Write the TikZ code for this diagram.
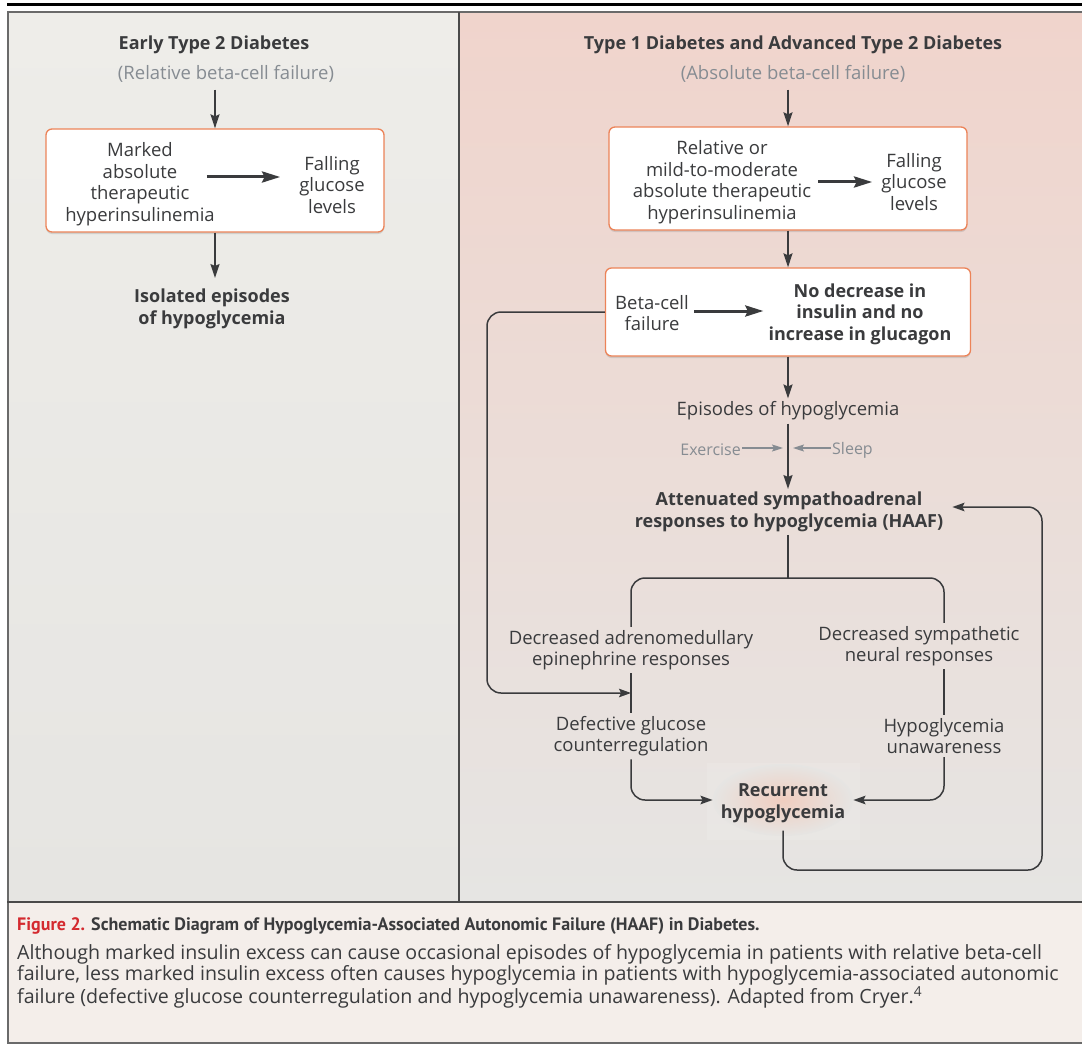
\documentclass[tikz,border=0pt]{standalone}
\usepackage{fontspec}
\setmainfont{Open Sans}
\newfontfamily\capfont{PT Sans}
\usetikzlibrary{positioning, arrows.meta, shadows}
\definecolor{ink}{HTML}{3A3B3D}
\definecolor{softgray}{HTML}{868C92}
\definecolor{boxline}{HTML}{EC8358}
\definecolor{lefttop}{HTML}{EEEDE9}
\definecolor{leftbot}{HTML}{E6E5E2}
\definecolor{pinktop}{HTML}{F0D4CC}
\definecolor{pinkmid}{HTML}{ECDFDA}
\definecolor{graybot}{HTML}{E6E5E3}
\definecolor{glowpink}{HTML}{F0CDBF}
\definecolor{capbg}{HTML}{F4EEEA}
\definecolor{capred}{HTML}{D42A2F}
\definecolor{framegray}{HTML}{6A6A6A}
\tikzset{
  x=1pt, y=-1pt,
  txt/.style={
      align=center,
      text=ink,
      font=\fontsize{18.5}{21.5}\selectfont,
      inner sep=3pt
    },
  btxt/.style={
      txt,
      font=\fontsize{18}{21.5}\selectfont\bfseries
    },
  subhdr/.style={
      txt,
      text=softgray
    },
  note/.style={
      txt,
      text=softgray,
      font=\fontsize{16}{18}\selectfont,
      inner sep=1pt
    },
  box/.style={
      rectangle,
      rounded corners=6pt,
      draw=boxline,
      line width=1.3pt,
      fill=white,
      drop shadow={shadow xshift=0pt, shadow yshift=-2pt, opacity=0.25}
    },
  arr/.style={
      -{Stealth[length=14pt, width=9pt, inset=2pt]},
      line width=1.8pt,
      ink
    },
  barr/.style={
      -{Stealth[length=18pt, width=11pt, inset=2.5pt]},
      line width=3pt,
      ink
    },
  link/.style={
      line width=1.5pt,
      ink,
      rounded corners=14pt
    },
  larr/.style={
      link,
      -{Stealth[length=12pt, width=8.5pt, inset=2pt]}
    },
  garr/.style={
      -{Stealth[length=11pt, width=7pt, inset=2pt]},
      line width=1.3pt,
      softgray
    },
  captext/.style={
      anchor=north west,
      align=left,
      inner sep=0pt,
      text=ink,
      font=\fontsize{19.6}{21.5}\selectfont
    }
}

\begin{document}
\begin{tikzpicture}
  \useasboundingbox (0,0) rectangle (1082,1046);
  % panels and frame
  \shade[top color=lefttop, bottom color=leftbot] (7,12) rectangle (459,902);
  \shade[top color=pinktop, middle color=pinkmid, bottom color=graybot] (459,12) rectangle (1090,902);
  \fill[capbg] (7,902) rectangle (1090,1043);
  \draw[framegray, line width=2pt] (7.5,12) rectangle (1095,1043);
  \draw[framegray!70!black, line width=2.5pt] (7,902) -- (1090,902);
  \draw[framegray!70!black, line width=2pt] (459,12) -- (459,902);
  \draw[black, line width=3pt] (7,5) -- (1090,5);

  % left panel: early type 2
  \node[btxt] (early) at (214,45) {Early Type 2 Diabetes};
  \node[subhdr] (relfail) at (226,74) {(Relative beta-cell failure)};
  \node[box, minimum width=338pt, minimum height=103pt] (lbox) at (215,180.5) {};
  \node[txt] (marked) at (140,184) {Marked\\absolute\\therapeutic\\hyperinsulinemia};
  \node[txt] (lfall) at (332,185) {Falling\\glucose\\levels};
  \node[btxt] (isolated) at (212,309) {Isolated episodes\\of hypoglycemia};
  \draw[arr, shorten <=4pt] (lbox.north |- relfail.south) -- (lbox.north);
  \draw[barr, shorten <=-11pt, shorten >=16pt] ([yshift=7pt]marked.east) -- ([yshift=7pt]marked.east -| lfall.west);
  \draw[arr, shorten >=8pt] (lbox.south) -- (lbox.south |- isolated.north);

  % right panel: type 1 and advanced type 2
  \node[btxt] (advanced) at (793,45) {Type 1 Diabetes and Advanced Type 2 Diabetes};
  \node[subhdr] (absfail) at (793,74) {(Absolute beta-cell failure)};
  \node[box, minimum width=358pt, minimum height=103pt] (rbox1) at (788,178.5) {};
  \node[txt] (mild) at (722,182) {Relative or\\mild-to-moderate\\absolute therapeutic\\hyperinsulinemia};
  \node[txt] (rfall) at (914,182) {Falling\\glucose\\levels};
  \node[box, minimum width=365pt, minimum height=88pt] (rbox2) at (788,312) {};
  \node[txt] (betafail) at (652,313) {Beta-cell\\failure};
  \node[btxt] (nochange) at (860,314) {No decrease in\\insulin and no\\increase in glucagon};
  \draw[arr, shorten <=4pt] (rbox1.north |- absfail.south) -- (rbox1.north);
  \draw[barr, shorten <=4pt, shorten >=6pt] (mild.east) -- (mild.east -| rfall.west);
  \draw[arr] (rbox1.south) -- (rbox2.north);
  \draw[barr, shorten <=2pt, shorten >=2pt] ([yshift=2pt]betafail.east) -- ([yshift=2pt]betafail.east -| nochange.west);

  \node[txt] (episodes) at (788,411) {Episodes of hypoglycemia};
  \node[note, anchor=east] (exercise) at (742,450) {Exercise};
  \node[note, anchor=west] (sleep) at (831,450) {Sleep};
  \coordinate (merge) at (788,448);
  \node[btxt] (haaf) at (789,512) {Attenuated sympathoadrenal\\responses to hypoglycemia (HAAF)};
  \draw[arr] (rbox2.south) -- (episodes.north);
  \draw[arr] (episodes.south) -- (episodes.south |- haaf.north);
  \draw[garr] (exercise.east |- merge) -- ([xshift=-5pt]merge);
  \draw[garr] (sleep.west |- merge) -- ([xshift=5pt]merge);

  % the HAAF loop
  \coordinate (split) at (788,578);
  \node[txt] (adreno) at (631,650) {Decreased adrenomedullary\\epinephrine responses};
  \node[txt] (sympa) at (919,646) {Decreased sympathetic\\neural responses};
  \node[txt] (defective) at (631,736) {Defective glucose\\counterregulation};
  \node[txt] (unaware) at (944,736) {Hypoglycemia\\unawareness};
  \fill[white, opacity=0.12] (707,763) rectangle (860,840);
  \shade[inner color=glowpink, outer color=graybot] (783,800) ellipse [x radius=70, y radius=36];
  \node[btxt, inner sep=8pt] (recurrent) at (783,803) {Recurrent\\hypoglycemia};
  \draw[link] (haaf.south -| split) -- (split);
  \draw[link] (adreno.north) |- (split) -| (unaware.north |- sympa.north);
  \draw[link] (adreno.south) -- (defective.north);
  \draw[link] (sympa.south -| unaware.north) -- (unaware.north);
  \draw[larr] (defective.south) |- ([yshift=3pt]recurrent.west);
  \draw[larr] (unaware.south) |- ([yshift=3pt]recurrent.east);
  \coordinate (loopL) at (487,693);
  \draw[larr] (rbox2.west) -| (loopL) -- (loopL -| defective.north);
  \coordinate (loopR) at (1042,870);
  \draw[larr, shorten >=6pt] (recurrent.south) |- (loopR) |- ([yshift=5pt]haaf.east);

  % caption
  \node[captext, font=\capfont\fontsize{18}{21.5}\selectfont\bfseries] (figtitle) at (17,917)
    {\textcolor{capred}{Figure 2.} Schematic Diagram of Hypoglycemia-Associated Autonomic Failure (HAAF) in Diabetes.};
  \node[captext] (figtext) at (17,944)
    {Although marked insulin excess can cause occasional episodes of hypoglycemia in patients with relative beta-cell\\
     failure, less marked insulin excess often causes hypoglycemia in patients with hypoglycemia-associated autonomic\\
     failure (defective glucose counterregulation and hypoglycemia unawareness). Adapted from Cryer.\textsuperscript{4}};
\end{tikzpicture}
\end{document}
